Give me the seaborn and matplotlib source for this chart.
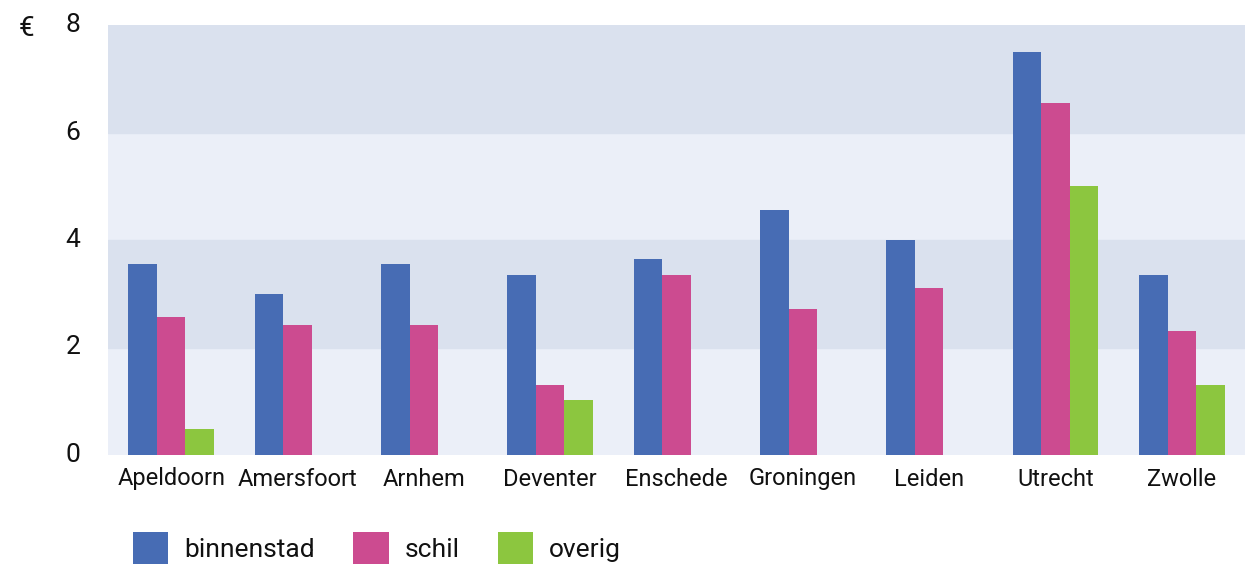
import numpy as np
import pandas as pd
import matplotlib
matplotlib.use('Agg')
import matplotlib.pyplot as plt
import seaborn as sns

sns.set_style('white')
plt.rcParams['font.family'] = ['Roboto', 'DejaVu Sans']

# Data
steden = ['Apeldoorn', 'Amersfoort', 'Arnhem', 'Deventer', 'Enschede',
          'Groningen', 'Leiden', 'Utrecht', 'Zwolle']
binnenstad = [3.55, 3.0, 3.55, 3.35, 3.65, 4.55, 4.0, 7.5, 3.35]
schil = [2.57, 2.42, 2.42, 1.3, 3.35, 2.72, 3.1, 6.55, 2.3]
overig = [0.48, 0, 0, 1.02, 0, 0, 0, 5.0, 1.3]
y_ticks = [0, 2, 4, 6, 8]

df = pd.DataFrame({'stad': steden * 3,
                   'zone': ['binnenstad'] * 9 + ['schil'] * 9 + ['overig'] * 9,
                   'waarde': binnenstad + schil + overig})

kleuren = {'binnenstad': '#476CB4', 'schil': '#CC4B90', 'overig': '#8CC63F'}

fig = plt.figure(figsize=(12.45, 5.66), dpi=100)
ax = fig.add_axes([108 / 1245, 1 - 455 / 566, 1 - 108 / 1245, 430 / 566])

# achtergrondbanden
ax.set_facecolor('#EBEFF8')
ax.axhspan(2, 4, color='#DAE1EE', zorder=0)
ax.axhspan(6, 8, color='#DAE1EE', zorder=0)

sns.barplot(data=df, x='stad', y='waarde', hue='zone', palette=kleuren,
            width=0.68, gap=0, saturation=1, linewidth=0, ax=ax, zorder=2)

ax.set_ylim(0, 8)
ax.set_xlim(-0.5, len(steden) - 0.5)
ax.set_yticks(y_ticks)
ax.set_xlabel('')
ax.set_ylabel('')
for s in ax.spines.values():
    s.set_visible(False)
ax.tick_params(axis='y', length=0, pad=20, labelsize=19, labelcolor='#111111')
ax.tick_params(axis='x', length=0, pad=9, labelsize=17, labelcolor='#111111')
for t in ax.get_yticklabels():
    t.set_verticalalignment('center')

fig.text(26 / 1245, 1 - 28 / 566, '€', fontsize=20, ha='center', va='center', color='#111111')

handles, labels = ax.get_legend_handles_labels()
ax.get_legend().remove()
fig.legend(handles, labels, loc='center left', bbox_to_anchor=(122 / 1245, 1 - 548 / 566),
           ncol=3, frameon=False, fontsize=19, handlelength=1.35, handleheight=1.45,
           handletextpad=0.6, columnspacing=1.45, borderaxespad=0, labelcolor='#111111')

fig.savefig('out.png', dpi=100)
